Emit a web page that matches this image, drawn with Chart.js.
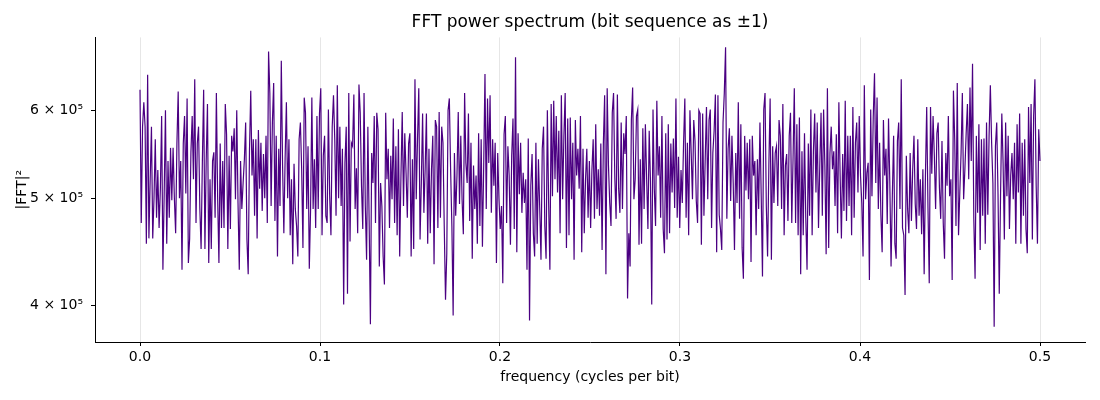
<!DOCTYPE html>
<html>
<head>
<meta charset="utf-8">
<script src="https://cdn.jsdelivr.net/npm/chart.js@4.4.1/dist/chart.umd.min.js"></script>
<style>
  html, body { margin: 0; padding: 0; background: #fff; }
  #fftChart { display: block; }
</style>
</head>
<body>
<canvas id="fftChart" width="1100" height="400"></canvas>
<script>
// |FFT|^2, in thousands, from f = 0 to f = 0.5 (evenly spaced bins)
const powerK = [
  // 0.000 - 0.048
  626, 475, 580, 610, 580, 455, 646, 460, 520, 580,
  460, 500, 565, 480, 530, 470, 510, 593, 431, 505,
  600, 455, 540, 480, 555, 498, 555, 500, 465, 560,
  624, 500, 540, 431, 560, 593, 505, 615, 437, 460,
  550, 593, 520, 640, 475, 560, 580, 490, 450, 540,
  626, 450, 540, 608, 437, 520, 450, 540, 550, 480,
  622, 500, 437, 560, 470, 540, 470, 608,
  // 0.048 - 0.099
  571, 450, 546, 469, 569, 551, 578, 499, 600, 495,
  431, 540, 489, 516, 542, 585, 459, 427, 551, 625,
  524, 565, 482, 565, 460, 576, 510, 561, 487, 548,
  500, 569, 475, 678, 622, 492, 585, 635, 477, 569,
  443, 554, 492, 665, 535, 465, 543, 610, 500, 565,
  463, 520, 436, 537, 489, 472, 443, 565, 585, 531,
  451, 616, 597, 489, 557, 432, 489, 616, 489, 542,
  470, 593,
  // 0.099 - 0.150
  489, 596, 628, 463, 546, 569, 482, 475, 601, 502,
  463, 580, 619, 565, 482, 632, 500, 580, 492, 554,
  401, 538, 580, 410, 622, 457, 561, 557, 620, 489,
  532, 465, 633, 597, 513, 469, 622, 492, 440, 580,
  477, 385, 549, 516, 593, 475, 597, 577, 434, 516,
  492, 443, 418, 597, 520, 554, 470, 546, 499, 590,
  475, 557, 463, 577, 443, 524, 598, 492, 572, 527,
  480, 560,
  // 0.150 - 0.201
  572, 443, 542, 450, 640, 499, 565, 628, 459, 516,
  596, 485, 531, 596, 455, 554, 465, 531, 569, 436,
  588, 580, 470, 598, 480, 580, 561, 472, 405, 446,
  600, 615, 531, 472, 392, 549, 482, 524, 598, 494,
  569, 499, 464, 622, 538, 516, 596, 477, 561, 441,
  535, 489, 524, 455, 572, 472, 565, 452, 535, 647,
  489, 615, 538, 619, 485, 565, 513, 561, 437, 549,
  499, 469,
  // 0.201 - 0.252
  492, 419, 571, 593, 475, 557, 524, 454, 546, 590,
  469, 670, 447, 572, 504, 561, 485, 527, 495, 520,
  431, 566, 388, 513, 548, 465, 443, 561, 455, 542,
  490, 440, 554, 580, 472, 441, 600, 495, 431, 608,
  502, 612, 520, 593, 506, 575, 465, 619, 499, 569,
  622, 451, 590, 463, 591, 499, 561, 440, 588, 524,
  554, 510, 593, 447, 554, 465, 520, 554, 480, 540,
  470, 530,
  // 0.252 - 0.303
  565, 479, 583, 489, 531, 482, 560, 449, 560, 619,
  427, 628, 535, 495, 472, 597, 622, 521, 479, 620,
  510, 485, 585, 489, 572, 548, 593, 406, 465, 434,
  588, 629, 499, 520, 593, 601, 454, 542, 455, 578,
  489, 583, 520, 469, 575, 518, 401, 601, 510, 472,
  612, 524, 557, 480, 593, 469, 446, 572, 459, 583,
  465, 560, 506, 566, 490, 615, 480, 545, 470, 530,
  495, 560,
  // 0.303 - 0.354
  615, 480, 561, 463, 600, 549, 499, 588, 563, 497,
  475, 600, 596, 454, 596, 482, 542, 604, 499, 588,
  601, 470, 549, 575, 620, 447, 619, 483, 469, 449,
  585, 622, 684, 479, 554, 578, 497, 569, 516, 449,
  549, 495, 610, 479, 583, 451, 423, 569, 508, 561,
  499, 565, 438, 569, 524, 540, 463, 542, 489, 585,
  502, 425, 601, 622, 492, 443, 535, 615, 440, 557,
  495, 549,
  // 0.354 - 0.405
  557, 492, 588, 569, 489, 608, 463, 535, 548, 477,
  569, 597, 475, 542, 628, 475, 583, 463, 591, 427,
  551, 463, 572, 480, 431, 560, 482, 601, 463, 551,
  596, 506, 585, 470, 535, 597, 482, 601, 535, 445,
  628, 451, 549, 580, 531, 551, 492, 571, 465, 610,
  524, 460, 548, 487, 612, 477, 569, 492, 569, 463,
  604, 480, 561, 585, 506, 593, 524, 495, 443, 632,
  499, 527,
  // 0.405 - 0.456
  538, 422, 601, 502, 591, 648, 516, 616, 489, 561,
  483, 447, 588, 524, 554, 474, 590, 518, 434, 502,
  569, 455, 441, 563, 585, 489, 640, 470, 463, 409,
  546, 489, 465, 549, 477, 531, 569, 494, 469, 565,
  482, 520, 464, 531, 427, 524, 604, 490, 419, 604,
  526, 593, 546, 489, 572, 585, 511, 479, 563, 475,
  441, 549, 513, 593, 502, 520, 422, 625, 565, 472,
  635, 463,
  // 0.456 - 0.500
  506, 549, 622, 499, 531, 572, 608, 520, 629, 540,
  661, 479, 423, 569, 485, 583, 449, 565, 482, 566,
  455, 585, 483, 569, 632, 561, 516, 383, 557, 585,
  506, 410, 502, 596, 538, 459, 585, 502, 569, 469,
  524, 549, 499, 561, 455, 583, 506, 596, 455, 561,
  482, 565, 469, 446, 604, 516, 608, 459, 593, 640,
  513, 455, 577, 540
];

const F_MAX = 0.5;                 // Nyquist, cycles per bit
const xTicks = [0, 0.1, 0.2, 0.3, 0.4, 0.5];
const yTicks = [400000, 500000, 600000];
const yTickLabels = ["4 × 10⁵", "5 × 10⁵", "6 × 10⁵"];

const step = F_MAX / (powerK.length - 1);
const points = powerK.map((v, i) => ({ x: i * step, y: v * 1000 }));

const FONT = "'DejaVu Sans', sans-serif";

const config = {
  type: "line",
  data: {
    datasets: [{
      data: points,
      borderColor: "#4b0082",
      borderWidth: 1.2,
      pointRadius: 0,
      tension: 0,
      fill: false
    }]
  },
  options: {
    responsive: false,
    animation: false,
    devicePixelRatio: 1,
    parsing: false,
    layout: { padding: { left: 0, right: 15, top: 0, bottom: 0 } },
    plugins: {
      legend: { display: false },
      tooltip: { enabled: false },
      title: {
        display: true,
        fullSize: false,
        text: "FFT power spectrum (bit sequence as ±1)",
        color: "#000",
        font: { family: FONT, size: 17, weight: "normal", lineHeight: 1.2 },
        padding: { top: 12, bottom: 5 }
      }
    },
    scales: {
      x: {
        type: "linear",
        min: -0.025,
        max: 0.525,
        afterFit: s => { s.height = 58; },
        afterBuildTicks: s => { s.ticks = xTicks.map(v => ({ value: v })); },
        ticks: {
          color: "#000",
          font: { family: FONT, size: 14 },
          padding: 3,
          maxRotation: 0,
          callback: v => v.toFixed(1)
        },
        grid: {
          color: "#e6e6e6",
          lineWidth: 1,
          drawTicks: true,
          tickLength: 4,
          tickColor: "#000"
        },
        border: { color: "#000", width: 1 },
        title: {
          display: true,
          text: "frequency (cycles per bit)",
          color: "#000",
          font: { family: FONT, size: 14, lineHeight: 1.2 },
          padding: { top: 0, bottom: 14 }
        }
      },
      y: {
        type: "logarithmic",
        min: 371000,
        max: 698000,
        afterFit: s => { s.width = 95; },
        afterBuildTicks: s => { s.ticks = yTicks.map(v => ({ value: v })); },
        ticks: {
          color: "#000",
          font: { family: FONT, size: 14 },
          padding: 8,
          autoSkip: false,
          callback: v => yTickLabels[yTicks.indexOf(v)] || ""
        },
        grid: {
          drawOnChartArea: false,
          drawTicks: true,
          tickLength: 4,
          tickColor: "#000"
        },
        border: { color: "#000", width: 1 },
        title: {
          display: true,
          text: "|FFT|²",
          color: "#000",
          font: { family: FONT, size: 14, lineHeight: 1.2 },
          padding: { top: 14, bottom: 0 }
        }
      }
    }
  }
};

window.onload = () => {
  const ctx = document.getElementById("fftChart").getContext("2d");
  new Chart(ctx, config);
};
</script>
</body>
</html>
